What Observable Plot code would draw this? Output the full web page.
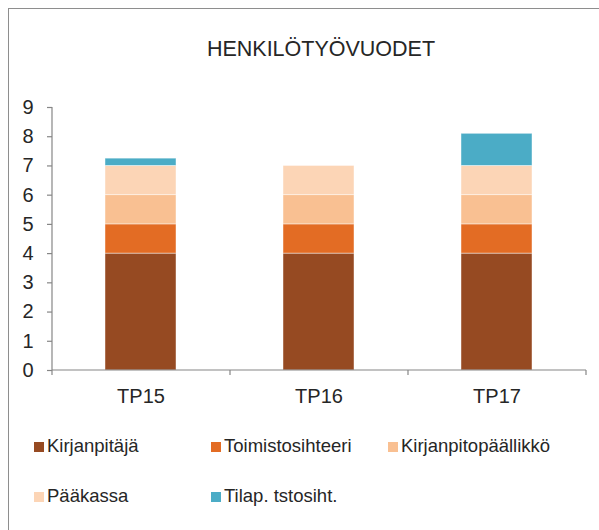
<!DOCTYPE html>
<html>
<head>
<meta charset="utf-8">
<script src="https://cdn.jsdelivr.net/npm/d3@7"></script>
<script src="https://cdn.jsdelivr.net/npm/@observablehq/plot@0.6"></script>
<style>
  body { margin: 0; background: #fff; font-family: "Liberation Sans", Arial, sans-serif; }
  #chart { position: relative; width: 599px; height: 530px; overflow: hidden; background: #fff; }
  #frame { position: absolute; left: 8px; top: 8px; width: 700px; height: 700px;
           border-top: 1.5px solid #8e8e8e; border-left: 1.5px solid #8e8e8e; }
  #title { position: absolute; left: 0; width: 642px; top: 39px; text-align: center;
           font-size: 21.5px; line-height: 1; color: #262626; }
  #plot { position: absolute; left: 0; top: 0; }
  .item { position: absolute; font-size: 18.5px; line-height: 1; color: #262626; white-space: nowrap; }
  .sw { position: absolute; width: 10px; height: 10px; left: -13px; top: 5px; }
</style>
</head>
<body>
<div id="chart">
  <div id="frame"></div>
  <div id="title"></div>
  <div id="plot"></div>
  <div id="legend"></div>
</div>
<script>
// ---- data ----
const title = "HENKILÖTYÖVUODET";
const categories = ["TP15", "TP16", "TP17"];
const seriesNames = ["Kirjanpitäjä", "Toimistosihteeri", "Kirjanpitopäällikkö", "Pääkassa", "Tilap. tstosiht."];
const kirjanpitaja = [4, 4, 4];
const toimistosihteeri = [1, 1, 1];
const kirjanpitopaallikko = [1, 1, 1];
const paakassa = [1, 1, 1];
const tilapTstosiht = [0.25, 0, 1.1];
const seriesColors = ["#964a22", "#e36c24", "#f9c092", "#fcd5b6", "#4bacc6"];
const yTicks = [0, 1, 2, 3, 4, 5, 6, 7, 8, 9];

const seriesValues = [kirjanpitaja, toimistosihteeri, kirjanpitopaallikko, paakassa, tilapTstosiht];
const table = [];
seriesNames.forEach((s, si) => {
  categories.forEach((c, ci) => table.push({category: c, series: s, value: seriesValues[si][ci]}));
});

document.getElementById("title").textContent = title;

// axis lines and category-boundary ticks, drawn from the scales
function axisLines(index, scales, values, dims) {
  const g = d3.create("svg:g").attr("stroke", "#868686").attr("stroke-width", 1.2).attr("fill", "none");
  const x0 = dims.marginLeft, x1 = dims.width - dims.marginRight;
  const yb = scales.y(yTicks[0]), yt = scales.y(yTicks[yTicks.length - 1]);
  g.append("line").attr("x1", x0).attr("x2", x0).attr("y1", yt).attr("y2", yb);
  g.append("line").attr("x1", x0).attr("x2", x1).attr("y1", yb).attr("y2", yb);
  const n = categories.length;
  for (let i = 0; i <= n; i++) {
    const x = x0 + (x1 - x0) * i / n;
    g.append("line").attr("x1", x).attr("x2", x).attr("y1", yb).attr("y2", yb + 5);
  }
  return g.node();
}

const plot = Plot.plot({
  width: 599,
  height: 420,
  marginTop: 107,
  marginBottom: 50,
  marginLeft: 52,
  marginRight: 13,
  style: {fontFamily: "Liberation Sans, Arial, sans-serif", fontSize: "20px", color: "#262626", background: "transparent"},
  x: {domain: categories, paddingInner: 0.6, paddingOuter: 0.3, label: null},
  y: {domain: [0, 9], label: null},
  color: {domain: seriesNames, range: seriesColors},
  marks: [
    Plot.barY(table, Plot.stackY({x: "category", y: "value", fill: "series", order: seriesNames,
      stroke: "white", strokeWidth: 0.8, strokeOpacity: 0.55})),
    Plot.axisY({ticks: yTicks, tickSize: 5, tickPadding: 14, fontSize: 20, stroke: "#868686", strokeWidth: 1.2, label: null}),
    Plot.axisX({tickSize: 0, tickPadding: 18, fontSize: 20, label: null}),
    axisLines
  ]
});
document.getElementById("plot").appendChild(plot);

// legend
const legend = document.getElementById("legend");
seriesNames.forEach((s, i) => {
  const col = i % 3, row = Math.floor(i / 3);
  const item = document.createElement("div");
  item.className = "item";
  item.style.left = (47 + col * 177) + "px";
  item.style.top = (437 + row * 50) + "px";
  const sw = document.createElement("span");
  sw.className = "sw";
  sw.style.background = seriesColors[i];
  item.appendChild(sw);
  item.appendChild(document.createTextNode(s));
  legend.appendChild(item);
});
</script>
</body>
</html>
